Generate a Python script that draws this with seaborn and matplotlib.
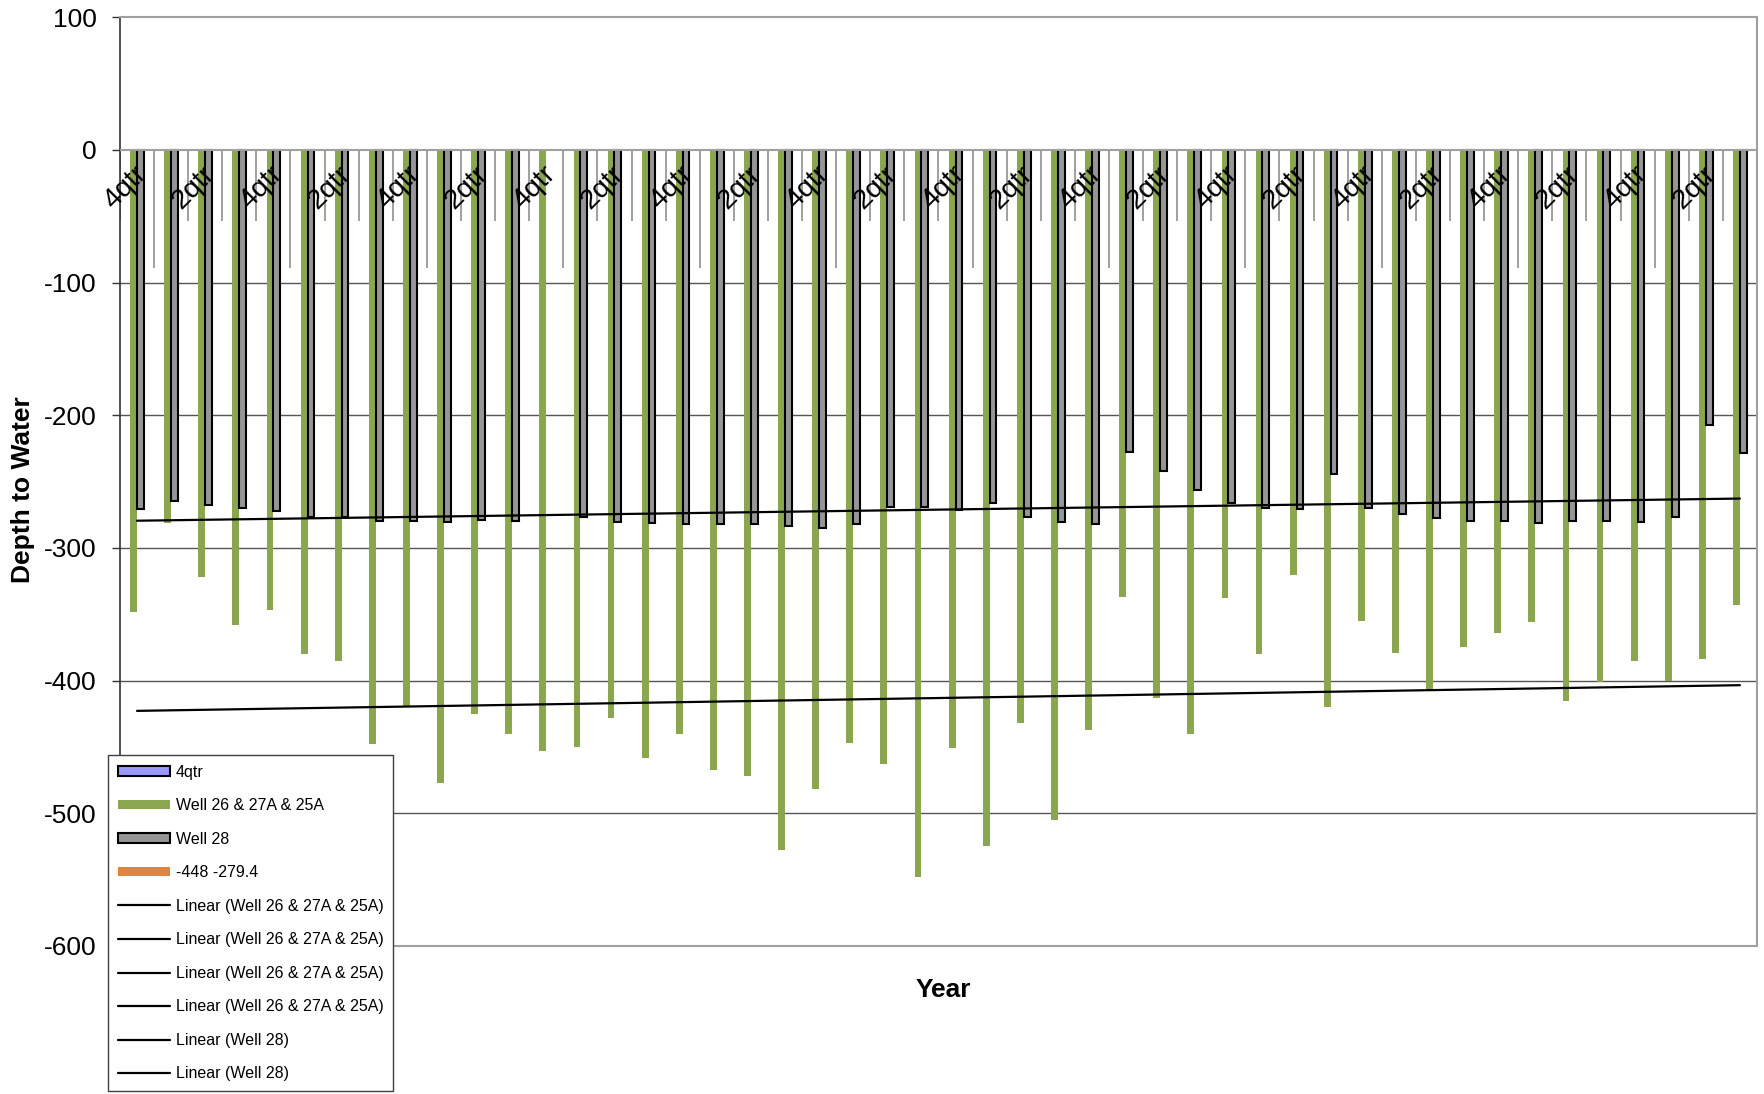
import numpy as np
import pandas as pd
import matplotlib
matplotlib.use("Agg")
import matplotlib.pyplot as plt
from matplotlib.patches import Patch
from matplotlib.lines import Line2D
import seaborn as sns

# Quarterly sampling, starting with the 4th quarter
quarters = ["4qtr", "1qtr", "2qtr", "3qtr"] * 12

# Depth to water (negative = below surface)
well_26_27a_25a = [
    -348, -281, -322, -358, -347, -380, -385, -448,
    -420, -477, -425, -440, -453, -450, -428, -458,
    -440, -467, -472, -528, -482, -447, -463, -548,
    -451, -525, -432, -505, -437, -337, -413, -440,
    -338, -380, -320, -420, -355, -379, -407, -375,
    -364, -356, -415, -401, -385, -400, -384, -343,
]
well_28 = [
    -271.0, -264.3, -267.5, -270.0, -272.3, -276.8, -276.8, -279.4,
    -279.6, -280.3, -279.1, -279.3, np.nan, -276.3, -280.3, -281.3,
    -282.3, -282.3, -282.3, -283.6, -285.3, -282.3, -269.3, -269.3,
    -271.3, -266.3, -276.3, -280.3, -282.3, -227.3, -242.2, -256.2,
    -266.3, -270.0, -271.0, -244.4, -270.0, -274.3, -277.1, -279.6,
    -279.6, -281.3, -279.6, -279.6, -280.6, -276.3, -207.2, -228.1,
]

series_names = ["4qtr", "Well 26 & 27A & 25A", "Well 28", "-448 -279.4"]
series_colors = ["#9999FF", "#8AA64F", "#969696", "#E0843F"]
palette = dict(zip(series_names, series_colors))

sns.set_theme(style="white")
plt.rcParams["font.family"] = ["Liberation Sans", "DejaVu Sans"]
plt.rcParams["axes.unicode_minus"] = False
for key in ("text.color", "axes.labelcolor", "xtick.color", "ytick.color"):
    plt.rcParams[key] = "black"

fig = plt.figure(figsize=(17.64, 10.94), dpi=100)
ax = fig.add_axes([0.0680, 0.1353, 0.9280, 0.8489])

n = len(quarters)
pos = np.arange(n)
df = pd.DataFrame({
    "pos": np.concatenate([pos, pos]),
    "depth": np.concatenate([well_26_27a_25a, well_28]),
    "series": [series_names[1]] * n + [series_names[2]] * n,
})

# Horizontal gridlines behind the bars
for v in range(-100, -601, -100):
    ax.axhline(v, color="#555555", lw=1.0, zorder=0.5)

common = dict(x="pos", y="depth", hue="series", hue_order=series_names,
              palette=palette, order=list(pos), dodge=True, width=0.8,
              errorbar=None, saturation=1, legend=False, ax=ax)
sns.barplot(data=df[df.series == series_names[1]], linewidth=0, **common)
sns.barplot(data=df[df.series == series_names[2]], edgecolor="black",
            linewidth=1.5, **common)

# Linear trends
for vals in (well_26_27a_25a, well_28):
    v = np.asarray(vals, dtype=float)
    m = ~np.isnan(v)
    sns.regplot(x=pos[m], y=v[m], scatter=False, ci=None, truncate=True,
                color="black", line_kws=dict(lw=1.6, zorder=4), ax=ax)

# Category axis at zero with year / quarter tick marks
ax.axhline(0, color="#A0A0A0", lw=1.5, zorder=3)
bounds = np.arange(n + 1) - 0.5
major = (np.arange(n + 1) % 4) == 1
ax.vlines(bounds[~major], -53.5, 0, color="#A0A0A0", lw=1.4, zorder=0.6)
ax.vlines(bounds[major], -89, 0, color="#A0A0A0", lw=1.4, zorder=0.6)

ax.set_xticks([])
for i in range(0, n, 2):
    ax.annotate(quarters[i], xy=(pos[i], 0), xytext=(-2.5, -8),
                textcoords="offset points", rotation=45, ha="right",
                va="top", rotation_mode="anchor", fontsize=20.5, zorder=5)

ax.set_xlim(-0.5, n - 0.5)
ax.set_ylim(-600, 100)
ax.set_yticks(range(-600, 101, 100))
ax.set_yticklabels([str(t) for t in range(-600, 101, 100)])
ax.tick_params(axis="y", which="major", direction="out", length=6,
               width=1, color="#333333", labelsize=19, pad=10.8, left=True)

for side in ("top", "right", "bottom"):
    ax.spines[side].set_color("#A0A0A0")
    ax.spines[side].set_linewidth(1.5)
ax.spines["left"].set_color("#333333")
ax.spines["left"].set_linewidth(1.2)

ax.set_xlabel("Year", fontsize=19, fontweight="bold")
ax.set_ylabel("Depth to Water", fontsize=19, fontweight="bold")
ax.xaxis.set_label_coords(0.5027, -0.034)
ax.yaxis.set_label_coords(-0.052, 0.4917)

handles = [
    Patch(facecolor=series_colors[0], edgecolor="black", linewidth=1.5),
    Patch(facecolor=series_colors[1], edgecolor="none"),
    Patch(facecolor=series_colors[2], edgecolor="black", linewidth=1.5),
    Patch(facecolor=series_colors[3], edgecolor="none"),
] + [Line2D([0], [0], color="black", lw=1.6) for _ in range(6)]
labels = series_names + ["Linear (Well 26 & 27A & 25A)"] * 4 + ["Linear (Well 28)"] * 2

leg = fig.legend(handles, labels, loc="upper left",
                 bbox_to_anchor=(108 / 1764, 1 - 755 / 1094),
                 borderaxespad=0, frameon=True, fancybox=False, framealpha=1,
                 edgecolor="#404040", fontsize=11.5, handlelength=3.3,
                 handleheight=0.55, handletextpad=0.35, labelspacing=1.16,
                 borderpad=0.6)
leg.get_frame().set_linewidth(1.0)
leg.set_zorder(10)

fig.savefig("out.png", dpi=100, facecolor="white")
